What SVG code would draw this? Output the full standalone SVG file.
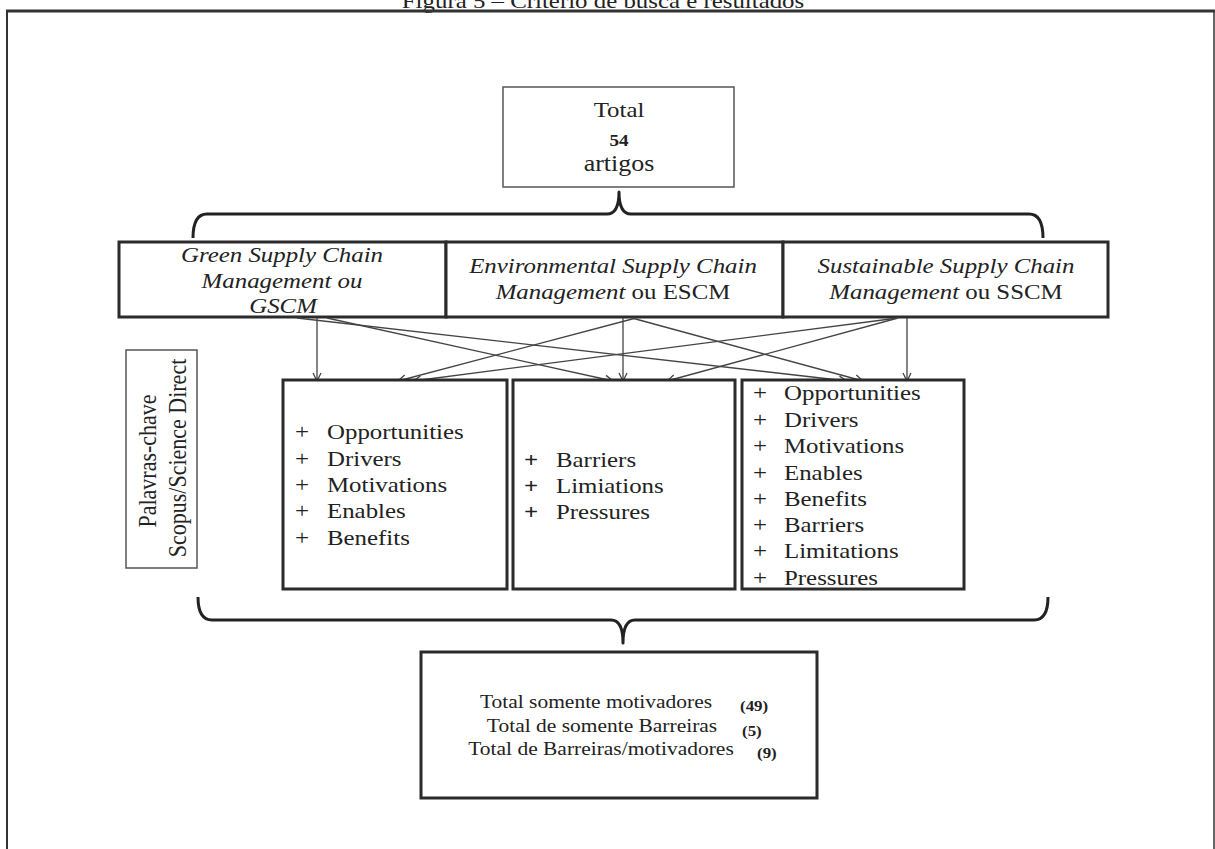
<svg xmlns="http://www.w3.org/2000/svg" width="1215" height="849" viewBox="0 0 1215 849">
<style>
text{font-family:"Liberation Serif","Times New Roman",serif;fill:#222;}
.t22{font-size:22px;}
.it{font-style:italic;}
.c{text-anchor:middle;}
.thin{fill:#fff;stroke:#555;stroke-width:1.5;}
.thick{fill:#fff;stroke:#2b2b2b;stroke-width:3;}
.brace{fill:none;stroke:#222;stroke-width:3;stroke-linejoin:round;}
.conn{stroke:#444;stroke-width:1.3;fill:none;marker-end:url(#ah);}
.frame{stroke:#333;fill:none;}
.b19{font-size:19px;}
.num{font-size:15px;font-weight:bold;}
</style>
<defs>
<marker id="ah" markerUnits="userSpaceOnUse" markerWidth="12" markerHeight="12" refX="9" refY="5" orient="auto">
<path d="M1,1 L9,5 L1,9" fill="none" stroke="#444" stroke-width="1.3"/>
</marker>
</defs>
<rect width="1215" height="849" fill="#fff"/>

<g id="title">
<text class="t22 c" transform="matrix(1.13 0 0 1 603 8)">Figura 5 – Critério de busca e resultados</text>
</g>
<g id="frame">
<line class="frame" x1="6" y1="11" x2="1215" y2="11" stroke-width="3"/>
<line class="frame" x1="7" y1="11" x2="7" y2="849" stroke-width="2"/>
<line class="frame" x1="1214" y1="11" x2="1214" y2="849" stroke-width="1.5" stroke="#555"/>
</g>

<g id="total">
<rect class="thin" x="503" y="87" width="231" height="100"/>
<text class="t22 c" transform="matrix(1.13 0 0 1 619 117)">Total</text>
<text class="c" style="font-size:17px;font-weight:bold" transform="matrix(1.13 0 0 1 619 146)">54</text>
<text class="c" style="font-size:23px" transform="matrix(1.13 0 0 1 619 171)">artigos</text>
</g>

<g id="braces">
<path class="brace" d="M193,238 Q193,214 207,214 L607,214 Q619,214 619,192 Q619,214 631,214 L1029,214 Q1043,214 1043,238"/>
<path class="brace" d="M198,597 Q198,620 212,620 L611,620 Q623,620 623,643 Q623,620 635,620 L1034,620 Q1048,620 1048,597"/>
</g>

<g id="gscm">
<rect class="thick" x="119" y="242" width="327" height="75"/>
<text class="t22 it c" transform="matrix(1.13 0 0 1 282 262)">Green Supply Chain</text>
<text class="t22 it c" transform="matrix(1.13 0 0 1 282 288)">Management ou</text>
<text class="t22 it c" transform="matrix(1.13 0 0 1 283 313)">GSCM</text>
</g>
<g id="escm">
<rect class="thick" x="446" y="242" width="337" height="75"/>
<text class="t22 it c" transform="matrix(1.13 0 0 1 613 273)">Environmental Supply Chain</text>
<text class="t22 c" transform="matrix(1.13 0 0 1 613 299)"><tspan class="it">Management</tspan> ou ESCM</text>
</g>
<g id="sscm">
<rect class="thick" x="783" y="242" width="325" height="75"/>
<text class="t22 it c" transform="matrix(1.13 0 0 1 946 273)">Sustainable Supply Chain</text>
<text class="t22 c" transform="matrix(1.13 0 0 1 946 299)"><tspan class="it">Management</tspan> ou SSCM</text>
</g>

<g id="palavras">
<rect class="thin" x="126" y="350" width="71" height="218"/>
<text class="t22 c" transform="translate(156 461) rotate(-90) scale(1 1.13)">Palavras-chave</text>
<text class="t22 c" transform="translate(186 458) rotate(-90) scale(1 1.13)">Scopus/Science Direct</text>
</g>

<g id="connectors">
<line class="conn" x1="317" y1="318" x2="317" y2="381"/>
<line class="conn" x1="327" y1="318" x2="613" y2="381"/>
<line class="conn" x1="297" y1="318" x2="847" y2="381"/>
<line class="conn" x1="623" y1="318" x2="623" y2="381"/>
<line class="conn" x1="636" y1="318" x2="398" y2="381"/>
<line class="conn" x1="632" y1="318" x2="863" y2="381"/>
<line class="conn" x1="907" y1="318" x2="907" y2="381"/>
<line class="conn" x1="898" y1="318" x2="413" y2="381"/>
<line class="conn" x1="898" y1="318" x2="667" y2="381"/>
</g>

<g id="motivators">
<rect class="thick" x="283" y="380" width="224" height="209"/>
<g class="t22">
<text transform="matrix(1.13 0 0 1 295 439)">+</text><text transform="matrix(1.13 0 0 1 327 439)">Opportunities</text>
<text transform="matrix(1.13 0 0 1 295 466)">+</text><text transform="matrix(1.13 0 0 1 327 466)">Drivers</text>
<text transform="matrix(1.13 0 0 1 295 492)">+</text><text transform="matrix(1.13 0 0 1 327 492)">Motivations</text>
<text transform="matrix(1.13 0 0 1 295 518)">+</text><text transform="matrix(1.13 0 0 1 327 518)">Enables</text>
<text transform="matrix(1.13 0 0 1 295 545)">+</text><text transform="matrix(1.13 0 0 1 327 545)">Benefits</text>
</g>
</g>
<g id="barriers">
<rect class="thick" x="513" y="380" width="222" height="209"/>
<g class="t22">
<text style="font-weight:bold" transform="matrix(1.13 0 0 1 524 467)">+</text><text transform="matrix(1.13 0 0 1 556 467)">Barriers</text>
<text style="font-weight:bold" transform="matrix(1.13 0 0 1 524 493)">+</text><text transform="matrix(1.13 0 0 1 556 493)">Limiations</text>
<text style="font-weight:bold" transform="matrix(1.13 0 0 1 524 519)">+</text><text transform="matrix(1.13 0 0 1 556 519)">Pressures</text>
</g>
</g>
<g id="both">
<rect class="thick" x="742" y="380" width="222" height="209"/>
<g class="t22">
<text transform="matrix(1.13 0 0 1 753 400)">+</text><text transform="matrix(1.13 0 0 1 784 400)">Opportunities</text>
<text transform="matrix(1.13 0 0 1 753 427)">+</text><text transform="matrix(1.13 0 0 1 784 427)">Drivers</text>
<text transform="matrix(1.13 0 0 1 753 453)">+</text><text transform="matrix(1.13 0 0 1 784 453)">Motivations</text>
<text transform="matrix(1.13 0 0 1 753 480)">+</text><text transform="matrix(1.13 0 0 1 784 480)">Enables</text>
<text transform="matrix(1.13 0 0 1 753 506)">+</text><text transform="matrix(1.13 0 0 1 784 506)">Benefits</text>
<text transform="matrix(1.13 0 0 1 753 532)">+</text><text transform="matrix(1.13 0 0 1 784 532)">Barriers</text>
<text transform="matrix(1.13 0 0 1 753 558)">+</text><text transform="matrix(1.13 0 0 1 784 558)">Limitations</text>
<text transform="matrix(1.13 0 0 1 753 585)">+</text><text transform="matrix(1.13 0 0 1 784 585)">Pressures</text>
</g>
</g>

<g id="result">
<rect class="thick" x="421" y="652" width="396" height="146"/>
<text class="b19 c" transform="matrix(1.13 0 0 1 596 708)">Total somente  motivadores</text>
<text class="num" transform="matrix(1.13 0 0 1 740 711)">(49)</text>
<text class="b19 c" transform="matrix(1.13 0 0 1 602 732)">Total de somente  Barreiras</text>
<text class="num" transform="matrix(1.13 0 0 1 742 736)">(5)</text>
<text class="b19 c" transform="matrix(1.13 0 0 1 601 755)">Total de Barreiras/motivadores</text>
<text class="num" transform="matrix(1.13 0 0 1 757 758)">(9)</text>
</g>
</svg>
